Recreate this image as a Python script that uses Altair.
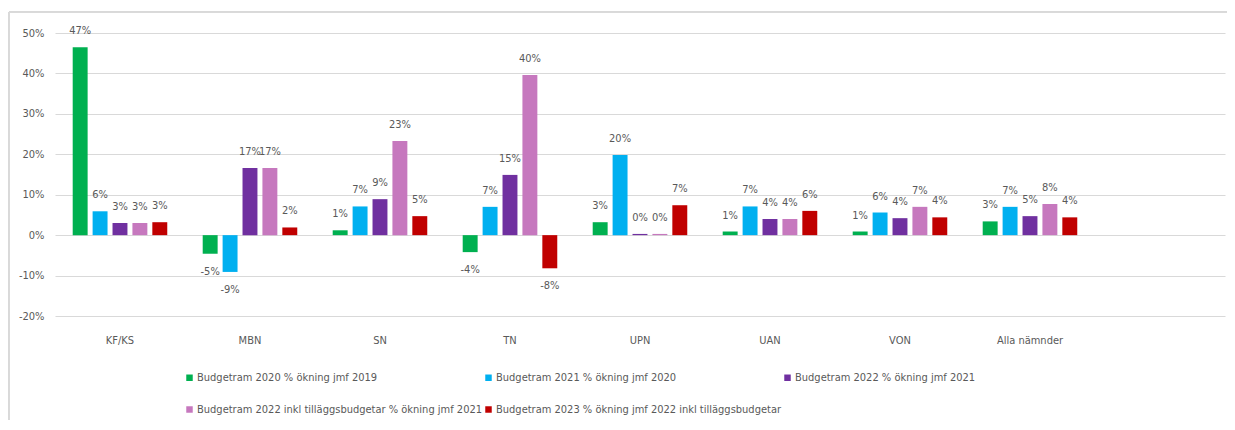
import altair as alt
import pandas as pd

categories = ["KF/KS", "MBN", "SN", "TN", "UPN", "UAN", "VON", "Alla nämnder"]
series = [
    "Budgetram 2020 % ökning jmf 2019",
    "Budgetram 2021 % ökning jmf 2020",
    "Budgetram 2022 % ökning jmf 2021",
    "Budgetram 2022 inkl tilläggsbudgetar % ökning jmf 2021",
    "Budgetram 2023 % ökning jmf 2022 inkl tilläggsbudgetar",
]
colors = ["#00B050", "#00B0F0", "#7030A0", "#C678BE", "#C00000"]

v2020 = [0.465, -0.046, 0.012, -0.042, 0.032, 0.009, 0.009, 0.034]
v2021 = [0.059, -0.091, 0.071, 0.070, 0.198, 0.071, 0.056, 0.070]
v2022 = [0.030, 0.166, 0.089, 0.149, 0.003, 0.040, 0.042, 0.047]
v2022t = [0.030, 0.166, 0.233, 0.396, 0.003, 0.040, 0.070, 0.077]
v2023 = [0.032, 0.019, 0.047, -0.082, 0.074, 0.060, 0.044, 0.044]

rows = []
for s, vals in zip(series, [v2020, v2021, v2022, v2022t, v2023]):
    for c, v in zip(categories, vals):
        rows.append({"Nämnd": c, "Serie": s, "Värde": v})
df = pd.DataFrame(rows)

FONT = "DejaVu Sans Condensed, sans-serif"
GRAY = "#595959"
FS = 11

x = alt.X(
    "Nämnd:N",
    sort=categories,
    scale=alt.Scale(paddingInner=0.2726, paddingOuter=0.6363, align=0.107),
    axis=alt.Axis(
        title=None, labelAngle=0, ticks=False, domain=False,
        labelFont=FONT, labelFontSize=FS, labelColor=GRAY, labelPadding=18,
    ),
)
y = alt.Y(
    "Värde:Q",
    scale=alt.Scale(domain=[-0.2, 0.5], nice=False),
    axis=alt.Axis(
        title=None, format=".0%", values=[-0.2, -0.1, 0, 0.1, 0.2, 0.3, 0.4, 0.5],
        labelExpr="replace(datum.label, '\u2212', '-')",
        ticks=False, domain=False, gridColor="#D9D9D9", gridWidth=1,
        labelFont=FONT, labelFontSize=FS, labelColor=GRAY, labelPadding=11,
    ),
)
xoff = alt.XOffset("Serie:N", sort=series, scale=alt.Scale(paddingInner=0.25, paddingOuter=0))

base = alt.Chart(df).transform_calculate(
    Etikett="replace(format(datum['Värde'], '.0%'), '\u2212', '-')"
)

bars = base.mark_bar().encode(
    x=x, y=y, xOffset=xoff,
    color=alt.Color(
        "Serie:N", sort=series,
        scale=alt.Scale(domain=series, range=colors),
        legend=alt.Legend(
            title=None, orient="none", legendX=129, legendY=339, direction="horizontal",
            columns=3, columnPadding=0, rowPadding=20, symbolType="square", symbolSize=42,
            symbolStrokeWidth=0, labelFont=FONT, labelFontSize=FS, labelColor=GRAY,
            labelOffset=2, labelLimit=400,
        ),
    ),
)

pos = base.transform_filter("datum['Värde'] >= 0").mark_text(
    baseline="bottom", dy=-11, font=FONT, fontSize=FS, color=GRAY
).encode(x=x, y=y, xOffset=xoff, text="Etikett:N")

neg = base.transform_filter("datum['Värde'] < 0").mark_text(
    baseline="top", dy=12, font=FONT, fontSize=FS, color=GRAY
).encode(x=x, y=y, xOffset=xoff, text="Etikett:N")

frame_top = alt.Chart(df).mark_rule(color="#D9D9D9", strokeWidth=1).encode(
    x=alt.value(-46), x2=alt.value(1185), y=alt.value(-21)
)
frame_left = alt.Chart(df).mark_rule(color="#D9D9D9", strokeWidth=1).encode(
    x=alt.value(-46), y=alt.value(-21), y2=alt.value(420)
)

chart = (
    alt.layer(frame_top, frame_left, bars, pos, neg)
    .properties(
        width=1170, height=283,
        autosize=alt.AutoSizeParams(type="none"),
        padding={"left": 47, "top": 25, "right": 2, "bottom": 104},
    )
    .configure_view(stroke=None)
)

chart.save("out.html", embed_options={"renderer": "svg", "actions": False})
